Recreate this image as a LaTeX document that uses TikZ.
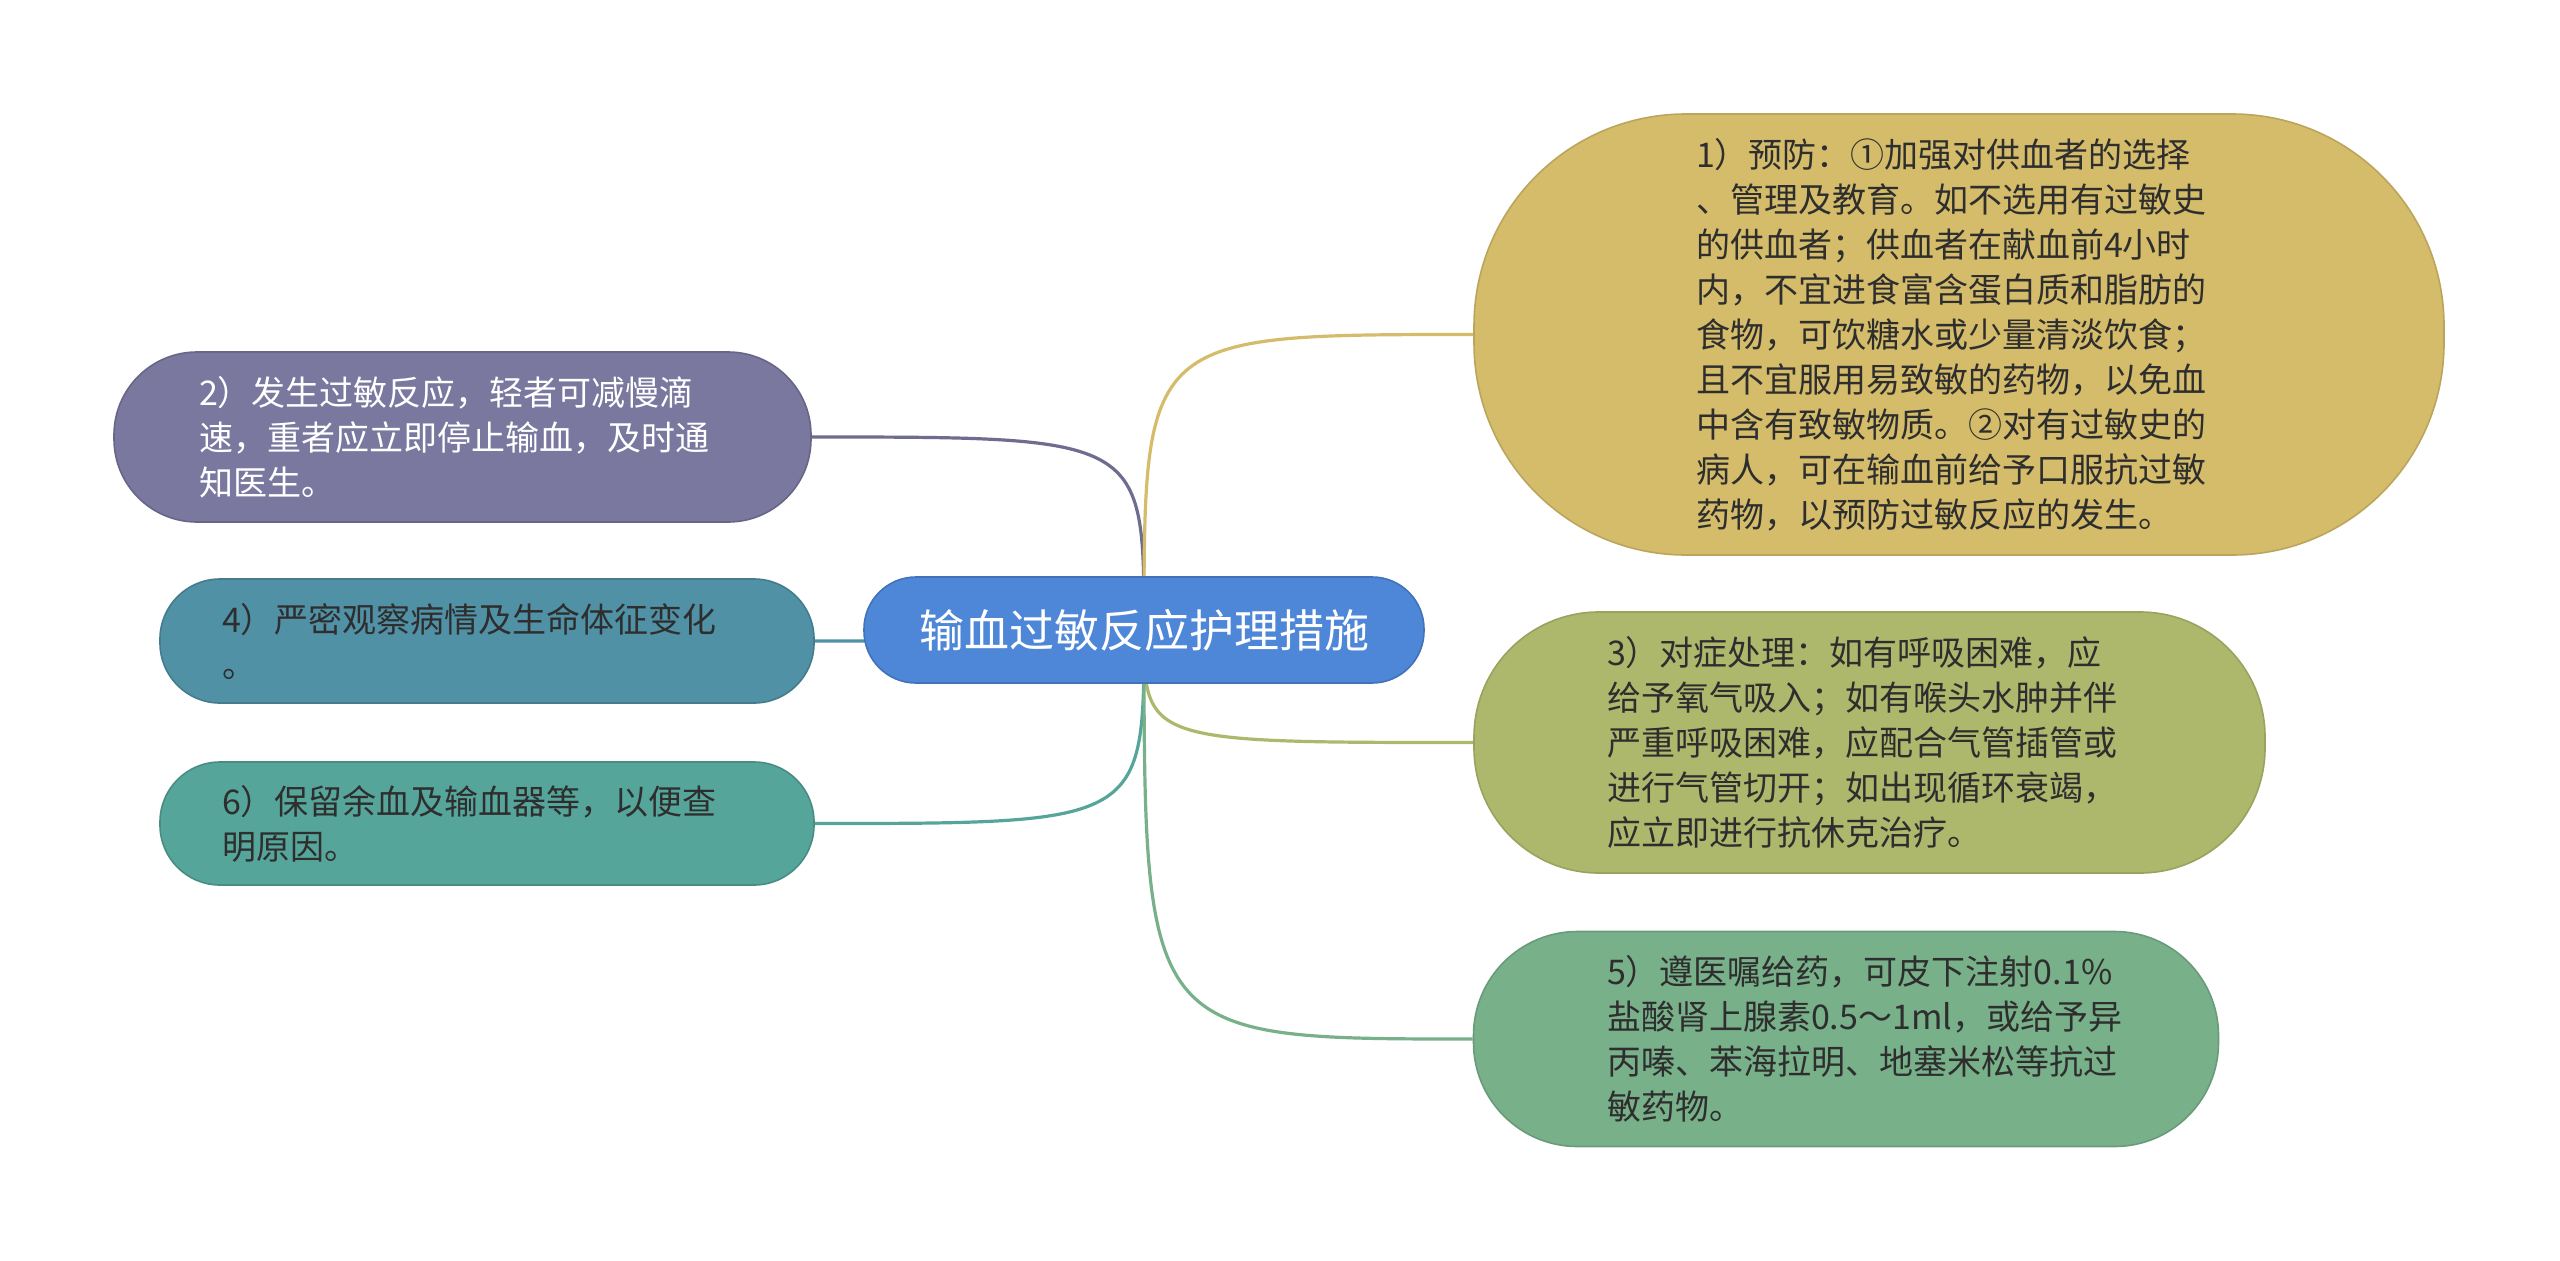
\documentclass[tikz,border=0pt]{standalone}
\usepackage{fontspec}
\newfontfamily\cjk{Noto Sans CJK SC}
\usetikzlibrary{backgrounds}
\definecolor{cMain}{HTML}{4E86D8}
\definecolor{cOne}{HTML}{D4BC6A}
\definecolor{cThree}{HTML}{AEB86C}
\definecolor{cFive}{HTML}{78B08A}
\definecolor{cTwo}{HTML}{7A789F}
\definecolor{cFour}{HTML}{5091A6}
\definecolor{cSix}{HTML}{56A59A}
\definecolor{txtDark}{HTML}{2E2E2E}
\begin{document}
\begin{tikzpicture}[x=1pt,y=-1pt,
  box/.style={inner sep=0pt, align=left, line width=1.6pt},
  small/.style={font=\cjk\fontsize{34pt}{45pt}\selectfont},
  big/.style={font=\cjk\fontsize{45pt}{54pt}\selectfont},
  conn/.style={line width=3.2pt}]
\useasboundingbox (0,0) rectangle (2560,1261);

\node[box, big, text=white, fill=cMain, draw=cMain!85!black, rounded corners=52pt,
  minimum width=560pt, minimum height=106pt] (c) at (1144,630) {输血过敏反应护理措施};

\node[box, small, text=txtDark, fill=cOne, draw=cOne!88!black, rounded corners=212pt,
  minimum width=970pt, minimum height=441pt, text width=526pt] (n1) at (1959,334.5)
  {1）预防：①加强对供血者的选择\\、管理及教育。如不选用有过敏史\\的供血者；供血者在献血前4小时\\内，不宜进食富含蛋白质和脂肪的\\食物，可饮糖水或少量清淡饮食；\\且不宜服用易致敏的药物，以免血\\中含有致敏物质。②对有过敏史的\\病人，可在输血前给予口服抗过敏\\药物，以预防过敏反应的发生。};

\node[box, small, text=txtDark, fill=cThree, draw=cThree!88!black, rounded corners=125pt,
  minimum width=791pt, minimum height=261pt, text width=525pt] (n3) at (1869.5,742.5)
  {3）对症处理：如有呼吸困难，应\\给予氧气吸入；如有喉头水肿并伴\\严重呼吸困难，应配合气管插管或\\进行气管切开；如出现循环衰竭，\\应立即进行抗休克治疗。};

\node[box, small, text=txtDark, fill=cFive, draw=cFive!88!black, rounded corners=104pt,
  minimum width=745pt, minimum height=215pt, text width=478pt] (n5) at (1846,1039)
  {5）遵医嘱给药，可皮下注射0.1\%\\盐酸肾上腺素0.5～1ml，或给予异\\丙嗪、苯海拉明、地塞米松等抗过\\敏药物。};

\node[box, small, text=white, fill=cTwo, draw=cTwo!85!black, rounded corners=83pt,
  minimum width=697pt, minimum height=170pt, text width=527pt] (n2) at (462.5,437)
  {2）发生过敏反应，轻者可减慢滴\\速，重者应立即停止输血，及时通\\知医生。};

\node[box, small, text=txtDark, fill=cFour, draw=cFour!85!black, rounded corners=60pt,
  minimum width=654pt, minimum height=124pt, text width=530pt] (n4) at (487,641)
  {4）严密观察病情及生命体征变化\\。};

\node[box, small, text=txtDark, fill=cSix, draw=cSix!85!black, rounded corners=60pt,
  minimum width=654pt, minimum height=123pt, text width=530pt] (n6) at (487,823.5)
  {6）保留余血及输血器等，以便查\\明原因。};

\begin{scope}[on background layer]
\fill[white] (0,0) rectangle (2560,1261);
\draw[conn, draw=cTwo!90!black] (c.center) .. controls (c.center |- n2.east) .. (n2.east);
\draw[conn, draw=cFour] (c.center) .. controls (c.center |- n4.east) .. (n4.east);
\draw[conn, draw=cSix] (c.center) .. controls (c.center |- n6.east) .. (n6.east);
\draw[conn, draw=cOne] (c.center) .. controls (c.center |- n1.west) .. (n1.west);
\draw[conn, draw=cThree] (c.center) .. controls (c.center |- n3.west) .. (n3.west);
\draw[conn, draw=cFive] (c.center) .. controls (c.center |- n5.west) .. (n5.west);
\end{scope}
\end{tikzpicture}
\end{document}
